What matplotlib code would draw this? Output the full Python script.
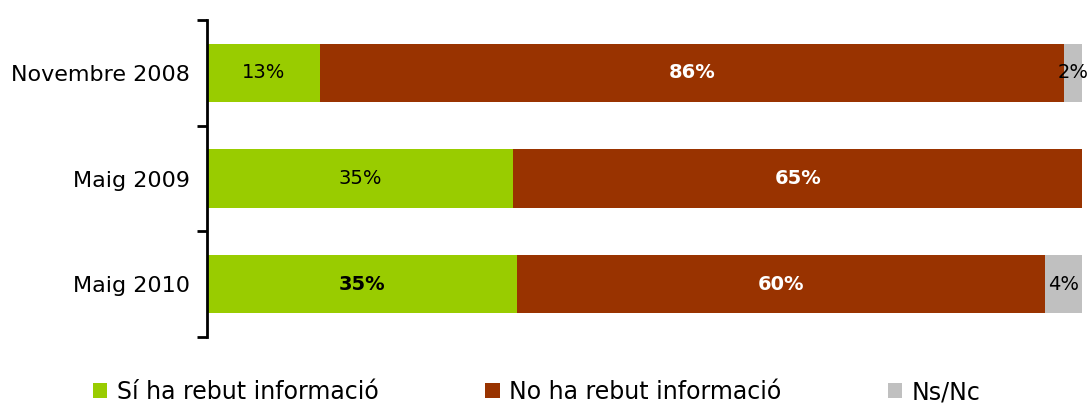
import matplotlib
matplotlib.use('Agg')
import matplotlib.pyplot as plt
import numpy as np
from matplotlib.patches import Patch

# dades llegides del gràfic
periodes = ['Novembre 2008', 'Maig 2009', 'Maig 2010']
si_info = [12.9, 35.0, 35.4]
no_info = [85.0, 65.0, 60.4]
nsnc = [2.1, 0.0, 4.2]
etiq_si = ['13%', '35%', '35%']
etiq_no = ['86%', '65%', '60%']
etiq_ns = ['2%', '', '4%']
negreta_si = [False, False, True]

series = ['Sí ha rebut informació', 'No ha rebut informació', 'Ns/Nc']
colors = ['#99CC00', '#993300', '#C0C0C0']

plt.rcParams['font.family'] = ['DejaVu Sans']

fig = plt.figure(figsize=(10.87, 4.08), dpi=100)
ax = fig.add_axes([207/1087, (408-337)/408, (1082-207)/1087, (337-20)/408])

y = np.arange(len(periodes))
h = 0.55
left = np.zeros(len(periodes))
for vals, col in zip([si_info, no_info, nsnc], colors):
    ax.barh(y, vals, left=left, height=h, color=col)
    left = left + np.array(vals)

for i in range(len(periodes)):
    x0 = 0
    ax.text(x0 + si_info[i]/2, y[i], etiq_si[i], ha='center', va='center', fontsize=14,
            color='black', fontweight='bold' if negreta_si[i] else 'normal')
    x0 += si_info[i]
    ax.text(x0 + no_info[i]/2, y[i], etiq_no[i], ha='center', va='center', fontsize=14,
            color='white', fontweight='bold')
    x0 += no_info[i]
    if etiq_ns[i]:
        ax.text(x0 + nsnc[i]/2, y[i], etiq_ns[i], ha='center', va='center', fontsize=14,
                color='black')

ax.set_xlim(0, 100)
ax.set_ylim(2.5, -0.5)
ax.set_xticks([])
ax.set_yticks([-0.5, 0.5, 1.5, 2.5])
ax.set_yticklabels([])
ax.set_yticks(y, minor=True)
ax.set_yticklabels(periodes, minor=True, fontsize=16)
ax.tick_params(axis='y', which='major', length=7, width=2, direction='out')
ax.tick_params(axis='y', which='minor', length=0, pad=12)
for s in ['top', 'right', 'bottom']:
    ax.spines[s].set_visible(False)
ax.spines['left'].set_linewidth(2)

handles = [Patch(facecolor=c, edgecolor='none') for c in colors]
fig.legend(handles, series, loc='center left', bbox_to_anchor=(72/1087, 16/408), ncol=3,
           frameon=False, fontsize=17, handlelength=0.6, handleheight=0.6,
           handletextpad=0.42, columnspacing=4.5)

fig.savefig('out.png', dpi=100)
